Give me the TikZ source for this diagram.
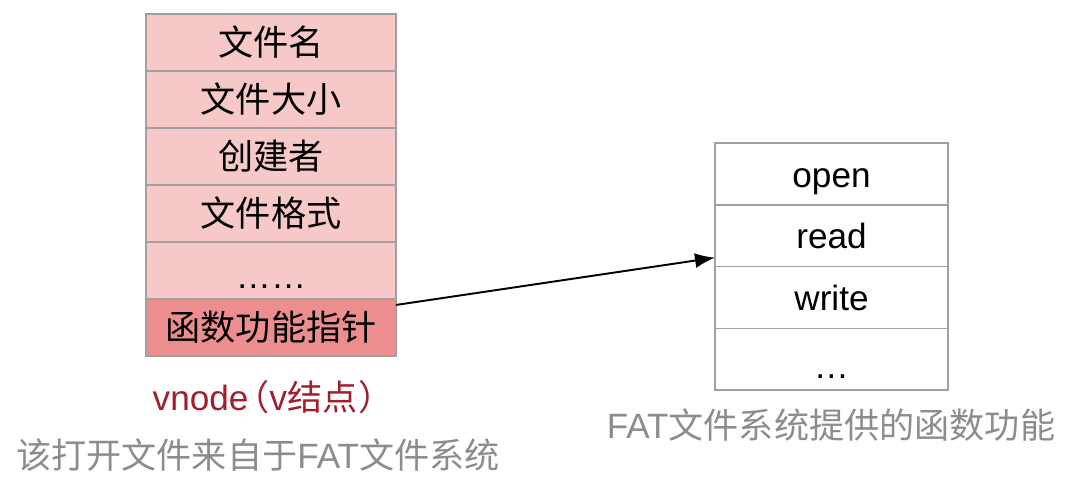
\documentclass[tikz,border=0pt]{standalone}
\usepackage{fontspec}
\setmainfont{Liberation Sans}
\newfontfamily\cjk{Noto Sans CJK SC}
\usetikzlibrary{positioning,arrows.meta}
\definecolor{rowpink}{RGB}{246,200,200}
\definecolor{rowred}{RGB}{237,142,142}
\definecolor{cellgray}{RGB}{160,160,160}
\definecolor{vred}{RGB}{163,30,45}
\definecolor{notegray}{RGB}{140,140,140}
\begin{document}
\begin{tikzpicture}[x=0.02cm,y=-0.02cm,>={Latex[length=0.4cm,width=0.3cm]},
	cell/.style={draw=cellgray,line width=0.8pt,inner sep=0pt,outer sep=0pt,minimum width=5cm,minimum height=1.14cm,font=\fontsize{20}{24}\selectfont\cjk},
	vcell/.style={cell,fill=rowpink},
	fcell/.style={cell,fill=white,minimum width=4.66cm,minimum height=1.235cm,text height=0.6cm,text depth=0.08cm,font=\fontsize{20}{24}\selectfont},
	note/.style={inner sep=0pt,font=\fontsize{20}{24}\selectfont}]
	\useasboundingbox (0,0) rectangle (1088,478);
	% vnode
	\node[vcell] (name) at (271,42.5) {文件名};
	\node[vcell,below=0pt of name] (size) {文件大小};
	\node[vcell,below=0pt of size] (creator) {创建者};
	\node[vcell,below=0pt of creator] (format) {文件格式};
	\node[vcell,below=0pt of format,text height=0.8cm,text depth=0.08cm,font=\fontsize{20}{24}\selectfont] (more) {……};
	\node[vcell,below=0pt of more,fill=rowred] (fnptr) {函数功能指针};
	% FAT functions
	\node[fcell] (open) at (831.5,174) {open};
	\node[fcell,below=0pt of open] (read) {read};
	\node[fcell,below=0pt of read] (write) {write};
	\node[fcell,below=0pt of write,text height=0.8cm,text depth=0.04cm] (etc) {…};
	\draw[->,line width=1.1pt]([yshift=-0.12cm]fnptr.north east)--([yshift=0.18cm]read.south west);
	% captions
	\node[note,text=vred] (vlabel) at (273,397) {vnode\kern-0.4em{\cjk （v结点）}};
	\node[note,text=notegray] (srcnote) at (258,455) {{\cjk 该打开文件来自于}FAT{\cjk 文件系统}};
	\node[note,text=notegray] (fatnote) at (831,425) {FAT{\cjk 文件系统提供的函数功能}};
\end{tikzpicture}
\end{document}
